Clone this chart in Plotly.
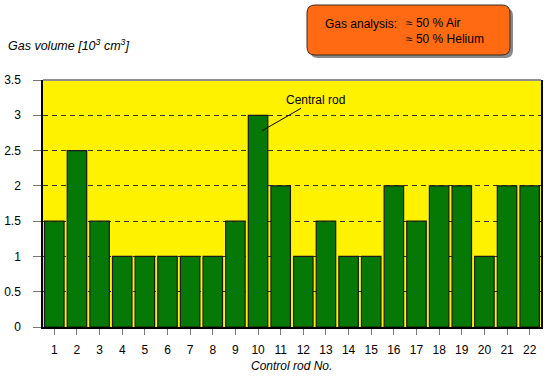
import plotly.graph_objects as go

rods = list(range(1, 23))
volumes = [1.5, 2.5, 1.5, 1, 1, 1, 1, 1, 1.5, 3, 2, 1, 1.5, 1, 1, 2, 1.5, 2, 2, 1, 2, 2]
y_ticks = [0, 0.5, 1, 1.5, 2, 2.5, 3, 3.5]
y_ticktext = ["0", "0.5", "1", "1.5", "2", "2.5", "3", "3.5"]

W, H = 550, 378
L, R, T, B = 43, 9, 80, 51
PW, PH = W - L - R, H - T - B


def px(x):
    return (x - L) / PW


def py(y):
    return (H - B - y) / PH


FONT = "Liberation Sans, Arial, sans-serif"

fig = go.Figure()
fig.add_trace(go.Bar(
    x=rods, y=volumes,
    marker=dict(color="#067806", line=dict(color="#1a1a1a", width=1.2)),
    width=0.86,
))


def rounded_rect(x0, y0, x1, y1, r):
    pts = [
        f"M {px(x0 + r)},{py(y0)}",
        f"L {px(x1 - r)},{py(y0)}",
        f"Q {px(x1)},{py(y0)} {px(x1)},{py(y0 + r)}",
        f"L {px(x1)},{py(y1 - r)}",
        f"Q {px(x1)},{py(y1)} {px(x1 - r)},{py(y1)}",
        f"L {px(x0 + r)},{py(y1)}",
        f"Q {px(x0)},{py(y1)} {px(x0)},{py(y1 - r)}",
        f"L {px(x0)},{py(y0 + r)}",
        f"Q {px(x0)},{py(y0)} {px(x0 + r)},{py(y0)}",
        "Z",
    ]
    return " ".join(pts)


shapes = [
    dict(type="path", xref="paper", yref="paper", path=rounded_rect(310, 8, 513, 58, 8),
         fillcolor="#8a8a8a", line=dict(width=0), layer="above"),
    dict(type="path", xref="paper", yref="paper", path=rounded_rect(307, 5, 510, 55, 8),
         fillcolor="#ff6a12", line=dict(color="#3a2a20", width=1), layer="above"),
    dict(type="line", xref="paper", yref="paper", x0=0, x1=1, y0=1, y1=1,
         line=dict(color="#909090", width=2), layer="above"),
]

annotations = [
    dict(text="<i>Gas volume [10<sup>3</sup> cm<sup>3</sup>]</i>", xref="paper", yref="paper",
         x=px(6), y=py(45), xanchor="left", yanchor="middle", showarrow=False,
         font=dict(family=FONT, size=12.5, color="black")),
    dict(text="<i>Control rod No.</i>", xref="paper", yref="paper",
         x=px(291), y=py(366), xanchor="center", yanchor="middle", showarrow=False,
         font=dict(family=FONT, size=12, color="black")),
    dict(text="Gas analysis:", xref="paper", yref="paper", x=px(323), y=py(24),
         xanchor="left", yanchor="middle", showarrow=False,
         font=dict(family=FONT, size=12, color="black")),
    dict(text="≈ 50 % Air<br>≈ 50 % Helium", xref="paper", yref="paper", x=px(404), y=py(31),
         xanchor="left", yanchor="middle", align="left", showarrow=False,
         font=dict(family=FONT, size=12, color="black")),
    dict(text="Central rod", x=10.17, y=2.78, xref="x", yref="y",
         showarrow=True, arrowhead=0, arrowwidth=1, arrowcolor="black",
         ax=54, ay=-31, standoff=0,
         font=dict(family=FONT, size=12, color="black")),
]

fig.update_layout(
    width=W, height=H,
    margin=dict(l=L, r=R, t=T, b=B),
    paper_bgcolor="white",
    plot_bgcolor="#fff200",
    showlegend=False,
    bargap=0.14,
    shapes=shapes,
    annotations=annotations,
    font=dict(family=FONT, size=12, color="black"),
)
fig.update_xaxes(
    automargin=False,
    range=[0.5, 22.5], tickmode="array", tickvals=rods, ticktext=[str(r) for r in rods],
    showgrid=False, zeroline=False, showline=True, linecolor="black", linewidth=1.5,
    ticks="outside", ticklen=6, tickcolor="#777777", tickwidth=1,
    ticklabelstandoff=5,
    tickfont=dict(family=FONT, size=12, color="black"),
)
fig.update_yaxes(
    automargin=False,
    range=[0, 3.5], tickmode="array", tickvals=y_ticks, ticktext=y_ticktext,
    showgrid=True, gridcolor="#333333", griddash="5px,4px", gridwidth=1,
    zeroline=False, showline=True, linecolor="black", linewidth=1.5, mirror=True,
    ticks="outside", ticklen=8, tickcolor="#777777", tickwidth=1,
    ticklabelstandoff=10,
    tickfont=dict(family=FONT, size=12, color="black"),
)

fig.write_html("out.html", config={"displayModeBar": False},
               post_script="document.body.style.margin='0';")
